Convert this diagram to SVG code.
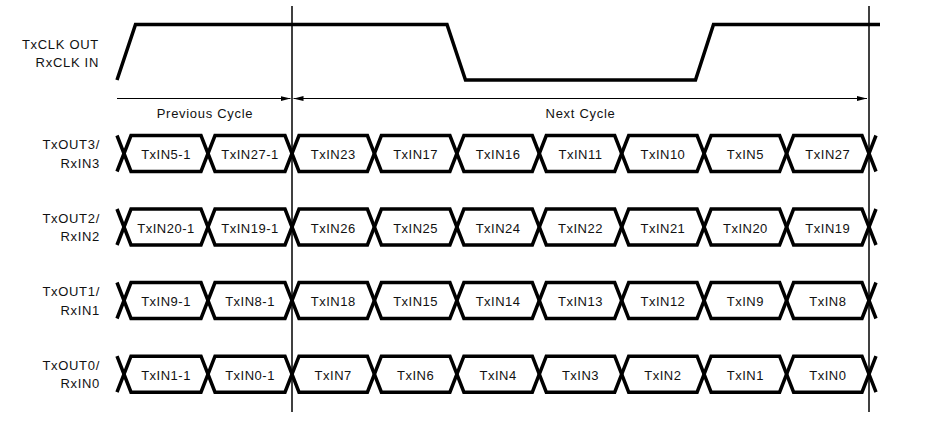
<svg xmlns="http://www.w3.org/2000/svg" width="927" height="421" viewBox="0 0 927 421">
<style>
text{font-family:"Liberation Sans",Arial,sans-serif;font-size:13px;letter-spacing:0.7px;fill:#111}
.lbl{text-anchor:end}
.eye{text-anchor:middle;letter-spacing:0.5px}
.cyc{text-anchor:middle}
.wave{fill:none;stroke:#000;stroke-width:3.5;stroke-linejoin:miter}
.ref{stroke:#000;stroke-width:1.5;fill:none}
.arr{stroke:#000;stroke-width:1;fill:none}
</style>
<defs>
<marker id="ah" markerUnits="userSpaceOnUse" markerWidth="10" markerHeight="6" refX="10" refY="3" orient="auto-start-reverse">
<path d="M0,0.5 L10,3 L0,5.5 z" fill="#000"/>
</marker>
</defs>
<rect width="927" height="421" fill="#fff"/>

<g id="refs">
<line class="ref" x1="292" y1="6" x2="292" y2="412"/>
<line class="ref" x1="869" y1="6" x2="869" y2="412"/>
</g>

<g id="clk">
<text class="lbl" x="99" y="48.5">TxCLK OUT</text>
<text class="lbl" x="99" y="66.5">RxCLK IN</text>
<polyline class="wave" points="117,80 135.5,24.5 447,24.5 465.5,80 695.5,80 713.5,24.5 880,24.5"/>
</g>

<g id="connectors">
<line class="arr" x1="117" y1="98.5" x2="290.5" y2="98.5" marker-end="url(#ah)"/>
<line class="arr" x1="293.5" y1="98.5" x2="867" y2="98.5" marker-start="url(#ah)" marker-end="url(#ah)"/>
</g>
<g id="cycles">
<text class="cyc" x="205" y="117.5">Previous Cycle</text>
<text class="cyc" x="580.5" y="117.5">Next Cycle</text>
</g>

<g id="row3">
<text class="lbl" x="100" y="149">TxOUT3/</text>
<text class="lbl" x="100" y="167.5">RxIN3</text>
<polyline class="wave" points="117,171.5 131,135.5 201,135.5 215,171.5 285,171.5 299,135.5 367.4,135.5 381.4,171.5 449.9,171.5 463.9,135.5 532.3,135.5 546.3,171.5 614.7,171.5 628.7,135.5 697.1,135.5 711.1,171.5 779.6,171.5 793.6,135.5 862,135.5 876,171.5"/>
<polyline class="wave" points="117,135.5 131,171.5 201,171.5 215,135.5 285,135.5 299,171.5 367.4,171.5 381.4,135.5 449.9,135.5 463.9,171.5 532.3,171.5 546.3,135.5 614.7,135.5 628.7,171.5 697.1,171.5 711.1,135.5 779.6,135.5 793.6,171.5 862,171.5 876,135.5"/>
<text class="eye" x="166" y="159">TxIN5-1</text>
<text class="eye" x="250" y="159">TxIN27-1</text>
<text class="eye" x="333.2" y="159">TxIN23</text>
<text class="eye" x="415.6" y="159">TxIN17</text>
<text class="eye" x="498.1" y="159">TxIN16</text>
<text class="eye" x="580.5" y="159">TxIN11</text>
<text class="eye" x="662.9" y="159">TxIN10</text>
<text class="eye" x="745.4" y="159">TxIN5</text>
<text class="eye" x="827.8" y="159">TxIN27</text>
</g>

<g id="row2" transform="translate(0,73.5)">
<text class="lbl" x="100" y="149">TxOUT2/</text>
<text class="lbl" x="100" y="167.5">RxIN2</text>
<polyline class="wave" points="117,171.5 131,135.5 201,135.5 215,171.5 285,171.5 299,135.5 367.4,135.5 381.4,171.5 449.9,171.5 463.9,135.5 532.3,135.5 546.3,171.5 614.7,171.5 628.7,135.5 697.1,135.5 711.1,171.5 779.6,171.5 793.6,135.5 862,135.5 876,171.5"/>
<polyline class="wave" points="117,135.5 131,171.5 201,171.5 215,135.5 285,135.5 299,171.5 367.4,171.5 381.4,135.5 449.9,135.5 463.9,171.5 532.3,171.5 546.3,135.5 614.7,135.5 628.7,171.5 697.1,171.5 711.1,135.5 779.6,135.5 793.6,171.5 862,171.5 876,135.5"/>
<text class="eye" x="166" y="159">TxIN20-1</text>
<text class="eye" x="250" y="159">TxIN19-1</text>
<text class="eye" x="333.2" y="159">TxIN26</text>
<text class="eye" x="415.6" y="159">TxIN25</text>
<text class="eye" x="498.1" y="159">TxIN24</text>
<text class="eye" x="580.5" y="159">TxIN22</text>
<text class="eye" x="662.9" y="159">TxIN21</text>
<text class="eye" x="745.4" y="159">TxIN20</text>
<text class="eye" x="827.8" y="159">TxIN19</text>
</g>

<g id="row1" transform="translate(0,147)">
<text class="lbl" x="100" y="149">TxOUT1/</text>
<text class="lbl" x="100" y="167.5">RxIN1</text>
<polyline class="wave" points="117,171.5 131,135.5 201,135.5 215,171.5 285,171.5 299,135.5 367.4,135.5 381.4,171.5 449.9,171.5 463.9,135.5 532.3,135.5 546.3,171.5 614.7,171.5 628.7,135.5 697.1,135.5 711.1,171.5 779.6,171.5 793.6,135.5 862,135.5 876,171.5"/>
<polyline class="wave" points="117,135.5 131,171.5 201,171.5 215,135.5 285,135.5 299,171.5 367.4,171.5 381.4,135.5 449.9,135.5 463.9,171.5 532.3,171.5 546.3,135.5 614.7,135.5 628.7,171.5 697.1,171.5 711.1,135.5 779.6,135.5 793.6,171.5 862,171.5 876,135.5"/>
<text class="eye" x="166" y="159">TxIN9-1</text>
<text class="eye" x="250" y="159">TxIN8-1</text>
<text class="eye" x="333.2" y="159">TxIN18</text>
<text class="eye" x="415.6" y="159">TxIN15</text>
<text class="eye" x="498.1" y="159">TxIN14</text>
<text class="eye" x="580.5" y="159">TxIN13</text>
<text class="eye" x="662.9" y="159">TxIN12</text>
<text class="eye" x="745.4" y="159">TxIN9</text>
<text class="eye" x="827.8" y="159">TxIN8</text>
</g>

<g id="row0" transform="translate(0,220.7)">
<text class="lbl" x="100" y="149">TxOUT0/</text>
<text class="lbl" x="100" y="167.5">RxIN0</text>
<polyline class="wave" points="117,171.5 131,135.5 201,135.5 215,171.5 285,171.5 299,135.5 367.4,135.5 381.4,171.5 449.9,171.5 463.9,135.5 532.3,135.5 546.3,171.5 614.7,171.5 628.7,135.5 697.1,135.5 711.1,171.5 779.6,171.5 793.6,135.5 862,135.5 876,171.5"/>
<polyline class="wave" points="117,135.5 131,171.5 201,171.5 215,135.5 285,135.5 299,171.5 367.4,171.5 381.4,135.5 449.9,135.5 463.9,171.5 532.3,171.5 546.3,135.5 614.7,135.5 628.7,171.5 697.1,171.5 711.1,135.5 779.6,135.5 793.6,171.5 862,171.5 876,135.5"/>
<text class="eye" x="166" y="159">TxIN1-1</text>
<text class="eye" x="250" y="159">TxIN0-1</text>
<text class="eye" x="333.2" y="159">TxIN7</text>
<text class="eye" x="415.6" y="159">TxIN6</text>
<text class="eye" x="498.1" y="159">TxIN4</text>
<text class="eye" x="580.5" y="159">TxIN3</text>
<text class="eye" x="662.9" y="159">TxIN2</text>
<text class="eye" x="745.4" y="159">TxIN1</text>
<text class="eye" x="827.8" y="159">TxIN0</text>
</g>
</svg>
